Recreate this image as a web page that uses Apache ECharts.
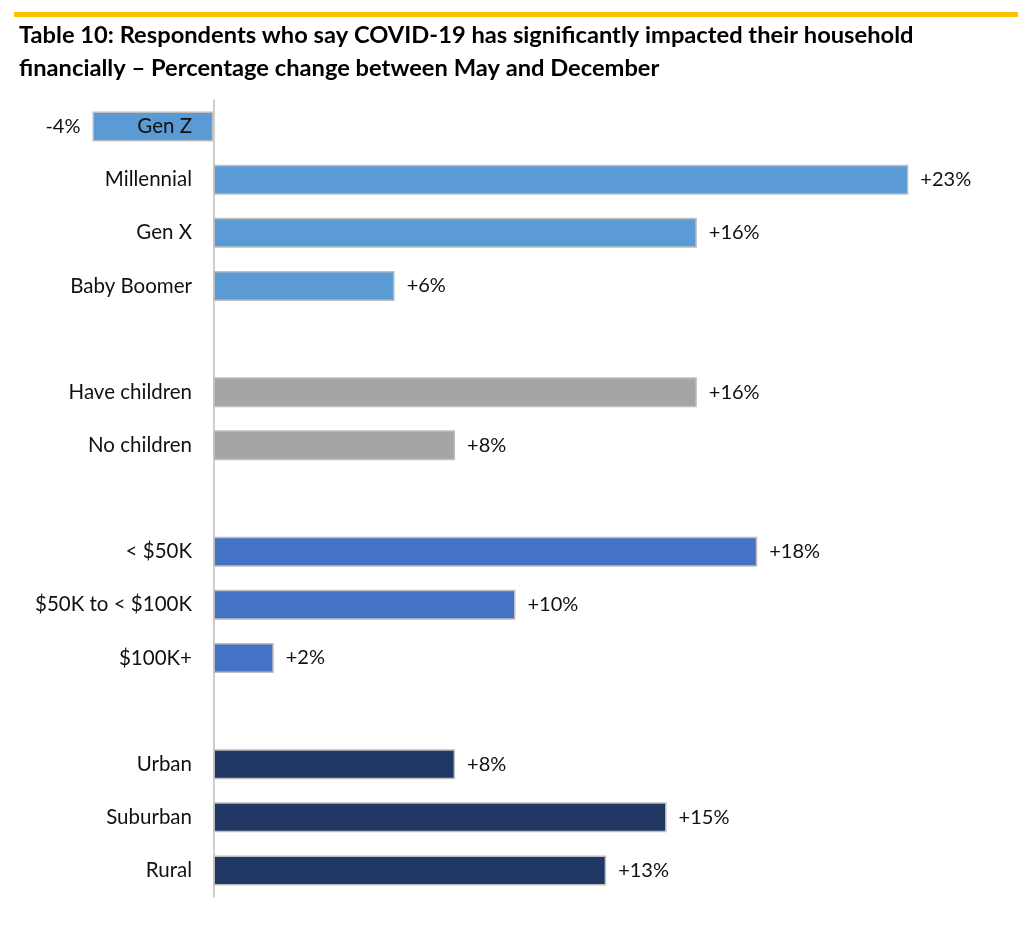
<!DOCTYPE html>
<html><head><meta charset="utf-8">
<script src="https://cdn.jsdelivr.net/npm/echarts@6/dist/echarts.min.js"></script>
<style>html,body{margin:0;padding:0;background:#fff}#c{width:1028px;height:935px}</style>
</head><body><div id="c"></div>
<script>
const categories = ['Gen Z','Millennial','Gen X','Baby Boomer','','Have children','No children','','< $50K','$50K to < $100K','$100K+','','Urban','Suburban','Rural'];
const values = [-4,23,16,6,null,16,8,null,18,10,2,null,8,15,13];
const groupColors = ['#5B9BD5','#5B9BD5','#5B9BD5','#5B9BD5',null,'#A5A5A5','#A5A5A5',null,'#4472C4','#4472C4','#4472C4',null,'#223864','#223864','#223864'];
const titleText = 'Table 10: Respondents who say COVID-19 has significantly impacted their household\nfinancially \u2013 Percentage change between May and December';
const font = 'Lato, "Open Sans", sans-serif';

const data = values.map((v,i)=> v===null ? null : ({
  value: v,
  itemStyle: {color: groupColors[i]},
  label: {position: v<0 ? 'left' : 'right'}
}));

const chart = echarts.init(document.getElementById('c'));
chart.setOption({
  animation:false,
  textStyle:{fontFamily:font},
  graphic:[{type:'rect',left:14,top:12,shape:{width:1004,height:5},style:{fill:'#FFC000'}}],
  title:{text:titleText,left:14,top:14,textStyle:{fontFamily:font,fontWeight:'bold',fontSize:23.7,color:'#000',lineHeight:33}},
  grid:{left:32,width:967,top:100,height:797,outerBoundsMode:'none',containLabel:false},
  xAxis:{type:'value',min:-6,max:26,show:false},
  yAxis:{type:'category',data:categories,inverse:true,z:10,
    axisLine:{show:true,onZero:true,lineStyle:{color:'#BFBFBF',width:1.5}},
    axisTick:{show:false},
    axisLabel:{fontSize:20.5,color:'#111',margin:-160,fontFamily:font}},
  series:[{type:'bar',data:data,barWidth:30,
    itemStyle:{borderColor:'#BFBFBF',borderWidth:1.5},
    label:{show:true,fontSize:20,color:'#111',distance:12,fontFamily:font,
      formatter:p=> (p.value>0?'+':'')+p.value+'%'}}]
});
</script></body></html>
